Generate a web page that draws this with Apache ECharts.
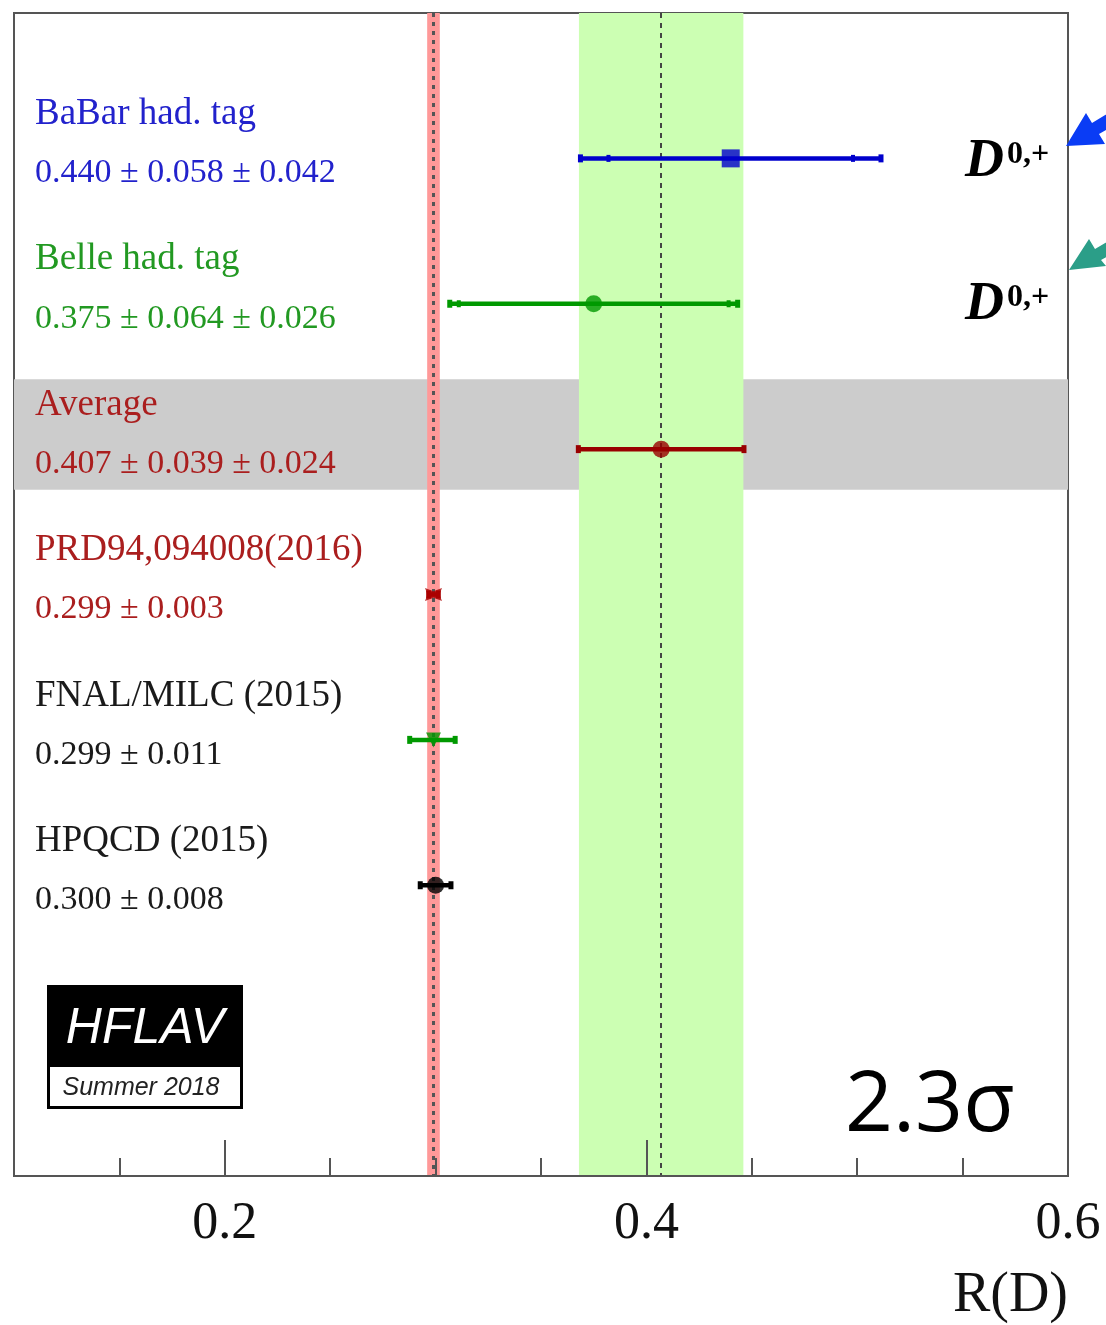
<!DOCTYPE html>
<html>
<head>
<meta charset="utf-8">
<script src="https://cdn.jsdelivr.net/npm/echarts@6/dist/echarts.min.js"></script>
<style>
  html, body { margin: 0; padding: 0; background: #fff; }
  #chart { width: 1106px; height: 1325px; }
</style>
</head>
<body>
<div id="chart"></div>
<script>
// rows, top to bottom
const names = ['BaBar had. tag', 'Belle had. tag', 'Average', 'PRD94,094008(2016)', 'FNAL/MILC (2015)', 'HPQCD (2015)'];
const valueTexts = ['0.440 ± 0.058 ± 0.042', '0.375 ± 0.064 ± 0.026', '0.407 ± 0.039 ± 0.024', '0.299 ± 0.003', '0.299 ± 0.011', '0.300 ± 0.008'];
const central = [0.440, 0.375, 0.407, 0.299, 0.299, 0.300];
// error bar ends as drawn
const barLow = [0.368, 0.306, 0.367, 0.296, 0.287, 0.292];
const barHigh = [0.512, 0.444, 0.447, 0.302, 0.310, 0.308];
// inner (stat only) marks
const statLow = [0.382, 0.311, null, null, null, null];
const statHigh = [0.498, 0.439, null, null, null, null];

// vertical bands: SM prediction and experimental average
const smBand = [0.296, 0.302];
const smLine = 0.299;
const avgBand = [0.368, 0.446];
const avgLine = 0.407;
// grey band behind the "Average" row (in row units)
const avgRowBand = [1.52, 2.28];

const xTickMinor = [0.15, 0.25, 0.3, 0.35, 0.45, 0.5, 0.55];
const xTickMajor = [0.2, 0.4];
const xTickLabels = [0.2, 0.4, 0.6];

// styles
const markColor = ['#0000cc', '#009900', '#990000', '#aa0000', '#009900', '#000000'];
const textColor = ['#2222cc', '#229922', '#aa1e1e', '#aa1e1e', '#1a1a1a', '#1a1a1a'];
const starPath = 'path://M0,0 L10,3 L20,0 L17,6 L20,12 L10,9 L0,12 L3,6 Z';
const markSymbol = ['rect', 'circle', 'circle', starPath, 'triangle', 'circle'];
const markSize = [18, 17, 17, [17, 13], 15, 17];
const markRotate = [0, 0, 0, 0, 180, 0];

const serif = '"Liberation Serif", "Times New Roman", serif';
const sans = '"Liberation Sans", Arial, sans-serif';

const chart = echarts.init(document.getElementById('chart'));

const option = {
  animation: false,
  grid: { left: 14, right: 38, top: 13, bottom: 149, show: true, borderColor: '#555', borderWidth: 2, backgroundColor: 'transparent' },
  xAxis: [
    {
      type: 'value', min: 0.1, max: 0.6, position: 'bottom', z: 20,
      axisLine: { show: true, onZero: false, lineStyle: { color: '#555', width: 2 } },
      axisTick: { show: true, inside: true, length: 18, customValues: xTickMinor, lineStyle: { color: '#555', width: 2 } },
      axisLabel: { customValues: xTickLabels, showMaxLabel: true, fontSize: 52, fontFamily: serif, color: '#111', margin: 22 },
      splitLine: { show: false }
    },
    {
      type: 'value', min: 0.1, max: 0.6, position: 'bottom', z: 20,
      axisLine: { show: false, onZero: false },
      axisTick: { show: true, inside: true, length: 36, customValues: xTickMajor, lineStyle: { color: '#555', width: 2 } },
      axisLabel: { show: false },
      splitLine: { show: false }
    }
  ],
  yAxis: { type: 'value', min: -1, max: 7, inverse: true, show: false, splitLine: { show: false } },
  series: [
    {
      type: 'line', data: [], z: 1, silent: true,
      markArea: { silent: true, itemStyle: { color: '#cccccc' }, data: [[{ yAxis: avgRowBand[0] }, { yAxis: avgRowBand[1] }]] }
    },
    {
      type: 'line', data: [], z: 2, silent: true,
      markArea: { silent: true, itemStyle: { color: '#ccffb3' }, data: [[{ xAxis: avgBand[0] }, { xAxis: avgBand[1] }]] },
      markLine: { silent: true, precision: 4, symbol: ['none', 'none'], label: { show: false },
        lineStyle: { color: '#444', width: 2, type: [5, 5] }, data: [{ xAxis: avgLine }] }
    },
    {
      type: 'line', data: [], z: 3, silent: true,
      markArea: { silent: true, itemStyle: { color: '#ff9999' }, data: [[{ xAxis: smBand[0] }, { xAxis: smBand[1] }]] },
      markLine: { silent: true, precision: 4, symbol: ['none', 'none'], label: { show: false },
        lineStyle: { color: '#555', width: 3, type: [4, 5] }, data: [{ xAxis: smLine }] }
    },
    {
      // error bars
      type: 'custom', z: 5, silent: true,
      data: central.map((c, i) => [barLow[i], barHigh[i], i]),
      encode: { x: [0, 1], y: 2 },
      renderItem: function (params, api) {
        const i = params.dataIndex;
        const lo = api.coord([api.value(0), api.value(2)]);
        const hi = api.coord([api.value(1), api.value(2)]);
        const color = markColor[i];
        const children = [
          { type: 'line', shape: { x1: lo[0], y1: lo[1], x2: hi[0], y2: hi[1] }, style: { stroke: color, lineWidth: 4.5 } },
          { type: 'rect', shape: { x: lo[0] - 1, y: lo[1] - 4, width: 5, height: 8 }, style: { fill: color } },
          { type: 'rect', shape: { x: hi[0] - 4, y: hi[1] - 4, width: 5, height: 8 }, style: { fill: color } }
        ];
        if (statLow[i] != null) {
          const s0 = api.coord([statLow[i], i]);
          const s1 = api.coord([statHigh[i], i]);
          children.push({ type: 'rect', shape: { x: s0[0] - 2, y: s0[1] - 3.5, width: 4, height: 7 }, style: { fill: color } });
          children.push({ type: 'rect', shape: { x: s1[0] - 2, y: s1[1] - 3.5, width: 4, height: 7 }, style: { fill: color } });
        }
        return { type: 'group', children: children };
      }
    },
    {
      type: 'scatter', z: 6, silent: true,
      data: central.map((c, i) => ({
        value: [c, i], symbol: markSymbol[i], symbolSize: markSize[i], symbolRotate: markRotate[i],
        itemStyle: { color: markColor[i] }
      }))
    },
    {
      // row labels on the left
      type: 'custom', z: 7, silent: true,
      data: names.map((n, i) => [0.1, i]),
      encode: { x: 0, y: 1 },
      renderItem: function (params, api) {
        const i = params.dataIndex;
        const p = api.coord([api.value(0), api.value(1)]);
        return {
          type: 'group',
          children: [
            { type: 'text', style: { text: names[i], x: p[0] + 21, y: p[1] - 44, fill: textColor[i], fontSize: 37, fontFamily: serif, verticalAlign: 'middle', align: 'left' } },
            { type: 'text', style: { text: valueTexts[i], x: p[0] + 21, y: p[1] + 15, fill: textColor[i], fontSize: 34, fontFamily: serif, verticalAlign: 'middle', align: 'left' } }
          ]
        };
      }
    }
  ],
  graphic: [
    // HFLAV logo
    { type: 'rect', left: 47, top: 985, shape: { width: 196, height: 124 }, style: { fill: '#000' }, z: 10 },
    { type: 'rect', left: 50, top: 1067, shape: { width: 190, height: 39 }, style: { fill: '#fff' }, z: 11 },
    { type: 'text', z: 12, style: { text: 'HFLAV', x: 145, y: 1029, fill: '#fff', font: 'italic 50px ' + sans, align: 'center', verticalAlign: 'middle' } },
    { type: 'text', z: 12, style: { text: 'Summer 2018', x: 141, y: 1088, fill: '#222', font: 'italic 25px ' + sans, align: 'center', verticalAlign: 'middle' } },
    // significance
    { type: 'text', z: 12, style: { text: '2.3σ', x: 845, y: 1107, fill: '#000', font: '84px "Open Sans", ' + sans, align: 'left', verticalAlign: 'middle' } },
    // axis title
    { type: 'text', z: 12, style: { text: 'R(D)', x: 1068, y: 1296, fill: '#111', font: '56px ' + serif, align: 'right', verticalAlign: 'middle' } },
    // D0,+ labels
    { type: 'text', z: 12, style: { text: 'D', x: 965, y: 162, fill: '#000', font: 'italic bold 54px ' + serif, align: 'left', verticalAlign: 'middle' } },
    { type: 'text', z: 12, style: { text: '0,+', x: 1007, y: 155, fill: '#000', font: 'bold 32px ' + serif, align: 'left', verticalAlign: 'middle' } },
    { type: 'text', z: 12, style: { text: 'D', x: 965, y: 305, fill: '#000', font: 'italic bold 54px ' + serif, align: 'left', verticalAlign: 'middle' } },
    { type: 'text', z: 12, style: { text: '0,+', x: 1007, y: 298, fill: '#000', font: 'bold 32px ' + serif, align: 'left', verticalAlign: 'middle' } },
    // arrows
    { type: 'polygon', z: 12, shape: { points: [[1066, 146], [1086, 113], [1092, 123], [1130, 100], [1137, 112], [1099, 134], [1105, 144]] }, style: { fill: '#0a3cf5' } },
    { type: 'polygon', z: 12, shape: { points: [[1069, 270], [1089, 239], [1095, 249], [1130, 228], [1137, 240], [1101, 260], [1106, 266]] }, style: { fill: '#2b9e88' } }
  ]
};

chart.setOption(option);
</script>
</body>
</html>
